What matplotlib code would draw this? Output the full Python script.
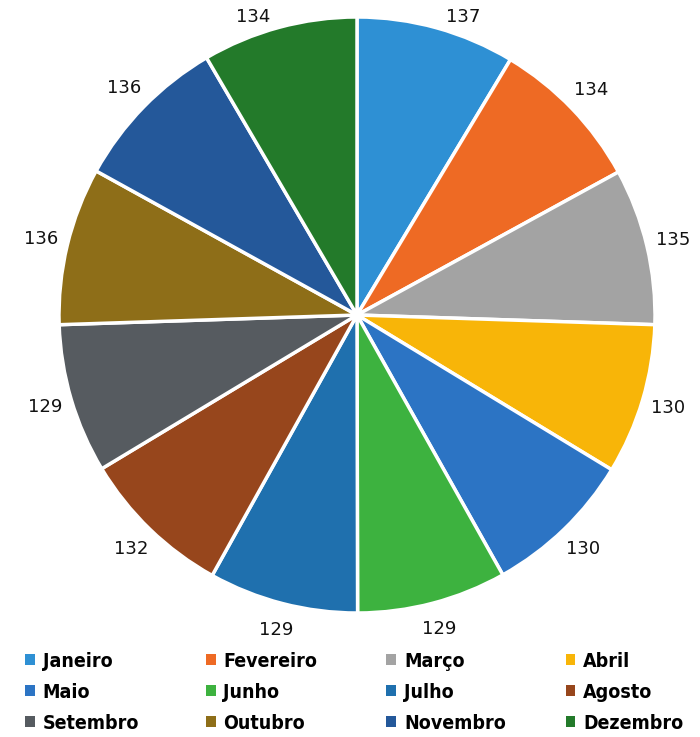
import matplotlib.pyplot as plt
from matplotlib import font_manager

# Dados do gráfico
meses = ["Janeiro", "Fevereiro", "Março", "Abril", "Maio", "Junho",
         "Julho", "Agosto", "Setembro", "Outubro", "Novembro", "Dezembro"]
valores = [137, 134, 135, 130, 130, 129, 129, 132, 129, 136, 136, 134]
cores = ["#2E90D4", "#EE6A24", "#A3A3A3", "#F8B508", "#2C74C4", "#3DB23F",
         "#1F70AE", "#97461C", "#565B60", "#8E6E18", "#24589A", "#237A2A"]

fig = plt.figure(figsize=(7, 7.37), dpi=100)

# Pizza: centro ~(357, 315) px, raio ~298 px
cx, cy, r = 357, 315, 298
ax = fig.add_axes([(cx - r) / 700, (737 - cy - r) / 737, 2 * r / 700, 2 * r / 737])

wedges, textos = ax.pie(valores, labels=[str(v) for v in valores], colors=cores,
                        startangle=90, counterclock=False, labeldistance=1.09,
                        wedgeprops=dict(edgecolor="white", linewidth=2.5),
                        textprops=dict(fontsize=13, color="#111111"))
for t in textos:
    t.set_horizontalalignment("center")
    t.set_verticalalignment("center")
    x, y = t.get_position()
    # rótulos do topo: puxa para o lado, como no Excel
    if y > 0.97:
        t.set_position((x * 1.22, 1.0))
ax.set_xlim(-1, 1)
ax.set_ylim(-1, 1)
ax.set_aspect("equal")

# fonte condensada se existir
nomes = {f.name for f in font_manager.fontManager.ttflist}
if "DejaVu Sans Condensed" in nomes:
    fonte = dict(family="DejaVu Sans Condensed", size=15.5, weight="bold")
elif "Liberation Sans Narrow" in nomes:
    fonte = dict(family="Liberation Sans Narrow", size=16, weight="bold")
else:
    fonte = dict(family="DejaVu Sans", size=14, weight="bold", stretch="condensed")

# Legenda: 4 colunas, 3 linhas (ordem por linha)
xs_col = [0.036, 0.294, 0.552, 0.808]
for c in range(4):
    idx = [c, c + 4, c + 8]
    leg = fig.legend([wedges[i] for i in idx], [meses[i] for i in idx],
                     loc="upper left", bbox_to_anchor=(xs_col[c], 0.116),
                     frameon=False, handlelength=0.5, handleheight=0.5,
                     handletextpad=0.4, labelspacing=0.62, borderpad=0,
                     borderaxespad=0, prop=fonte)
    for h in leg.legend_handles:
        h.set_edgecolor("none")

fig.savefig("out.png", dpi=100)
